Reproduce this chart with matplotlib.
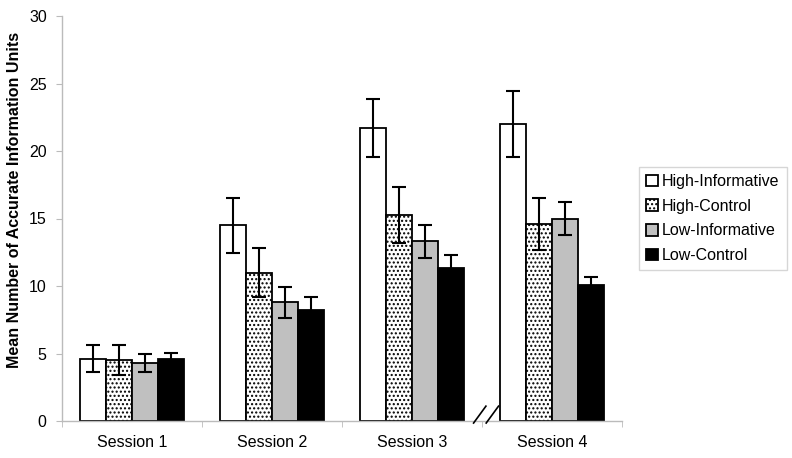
import numpy as np
import matplotlib.pyplot as plt

plt.rcParams['font.family'] = ['Liberation Sans', 'DejaVu Sans']

# Data
sessions = ["Session 1", "Session 2", "Session 3", "Session 4"]
groups = ["High-Informative", "High-Control", "Low-Informative", "Low-Control"]
means = {
    "High-Informative": [4.6, 14.5, 21.7, 22.0],
    "High-Control": [4.5, 11.0, 15.25, 14.6],
    "Low-Informative": [4.3, 8.8, 13.3, 15.0],
    "Low-Control": [4.6, 8.2, 11.35, 10.1],
}
errors = {
    "High-Informative": [1.0, 2.05, 2.15, 2.45],
    "High-Control": [1.1, 1.8, 2.1, 1.9],
    "Low-Informative": [0.7, 1.15, 1.25, 1.25],
    "Low-Control": [0.45, 1.0, 0.95, 0.55],
}

faces = ["white", "white", "#c0c0c0", "black"]
hatches = [None, "....", None, None]

fig = plt.figure(figsize=(7.92, 4.58), dpi=100)
ax = fig.add_axes([62 / 792, 37 / 458, 560 / 792, 405 / 458])

x = np.arange(len(sessions))
w = 0.184
for i, g in enumerate(groups):
    pos = x + (i - 1.5) * w
    ax.bar(pos, means[g], width=w, color=faces[i], edgecolor="black",
           linewidth=1.3, hatch=hatches[i], label=g, zorder=2)
    ax.errorbar(pos, means[g], yerr=errors[g], fmt="none", ecolor="black",
                elinewidth=1.5, capsize=5, capthick=1.5, zorder=3)

ax.set_xlim(-0.5, len(sessions) - 0.5)
ax.set_ylim(0, 30)
ax.set_yticks(range(0, 31, 5))
ax.set_xticks(x)
ax.set_xticklabels(sessions, fontsize=11.5)
ax.set_xticks(np.arange(-0.5, len(sessions), 1.0), minor=True)
ax.tick_params(axis="x", which="major", length=0, pad=10)
ax.tick_params(axis="x", which="minor", length=4, color="#bbbbbb")
ax.tick_params(axis="y", length=4, color="#bbbbbb", labelsize=11.5, pad=7)

for s in ["top", "right"]:
    ax.spines[s].set_visible(False)
for s in ["left", "bottom"]:
    ax.spines[s].set_color("#bbbbbb")
    ax.spines[s].set_linewidth(1.0)

ax.set_ylabel("Mean Number of Accurate Information Units", fontsize=11.5,
              fontweight="bold")
ax.yaxis.set_label_coords(-0.072, 0.545)

# axis break marks between Session 3 and 4
for x0 in (2.44, 2.53):
    ax.plot([x0, x0 + 0.088], [-0.15, 1.1], color="black",
            lw=1.2, clip_on=False, zorder=4)

leg = fig.legend(loc="upper left", bbox_to_anchor=(639 / 792, 1 - 167 / 458),
                 fontsize=11.5, frameon=True, fancybox=False,
                 edgecolor="#cccccc", handlelength=0.75, handleheight=0.75,
                 handletextpad=0.25, labelspacing=0.6, borderpad=0.45,
                 borderaxespad=0)
leg.get_frame().set_linewidth(1.0)

fig.savefig("out.png", dpi=100)
